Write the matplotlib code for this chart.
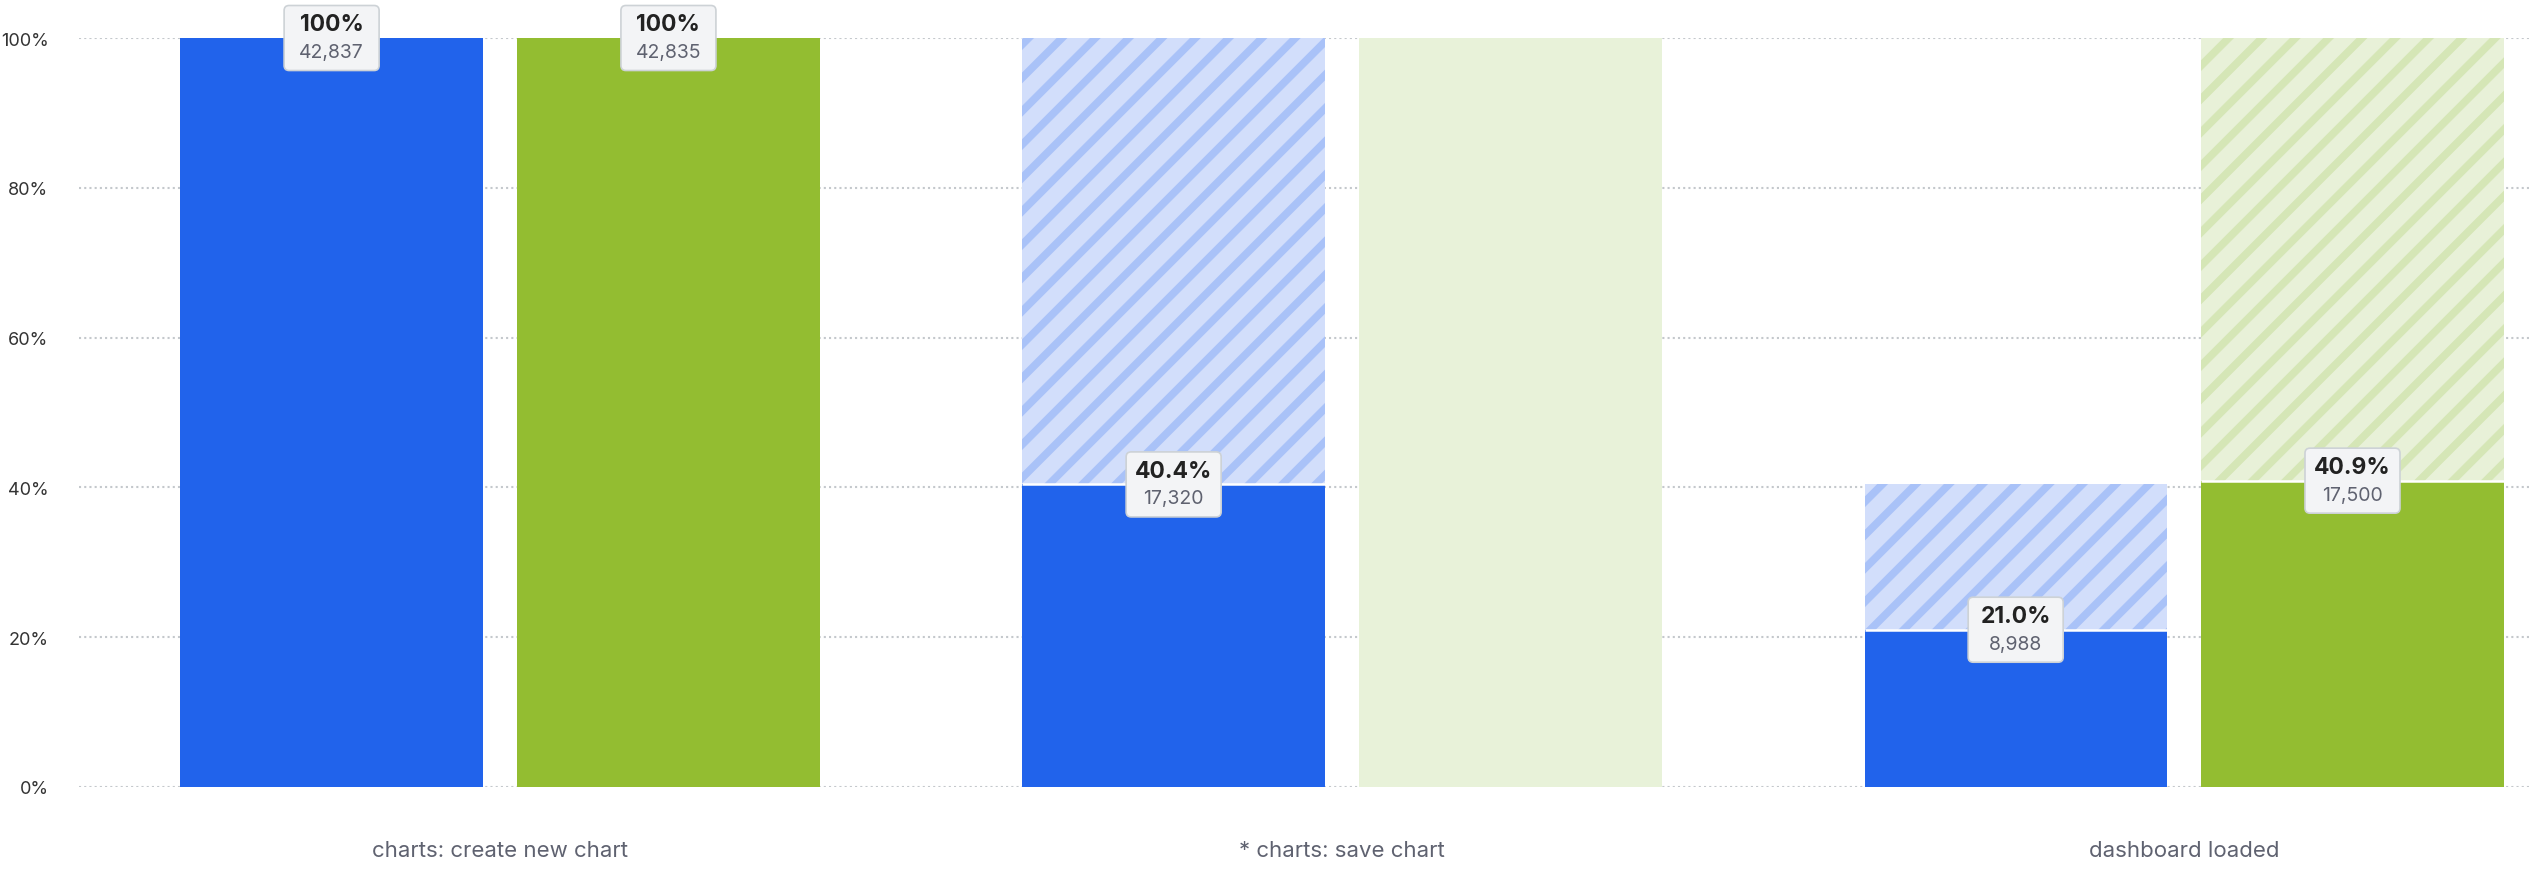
import numpy as np
import matplotlib
matplotlib.use('Agg')
import matplotlib.pyplot as plt
import matplotlib.transforms as mtransforms
from matplotlib.patches import FancyBboxPatch

plt.rcParams['font.family'] = ['Inter', 'DejaVu Sans']
plt.rcParams['hatch.linewidth'] = 5.5

steps = ['charts: create new chart', '* charts: save chart', 'dashboard loaded']
blue_pct = [100, 40.4, 21.0]
blue_counts = [42837, 17320, 8988]
green_pct = [100, 100, 40.9]
green_counts = [42835, 0, 17500]
green_skipped = [False, True, False]

series = [
    # pct, counts, skipped, offset, solid, hatch bg, hatch stripe
    (blue_pct, blue_counts, [False, False, False], -0.2, '#2163EB', '#D2DEFB', '#A9C2F8'),
    (green_pct, green_counts, green_skipped, 0.2, '#93BD31', '#E8F1D8', '#D5E6B6'),
]
skip_color = '#E8F2D9'
width = 0.359

fig = plt.figure(figsize=(25.31, 8.70), dpi=100)
ax = fig.add_axes([79/2531, 1-788/870, 1-79/2531, (788-39)/870])

x = np.arange(len(steps))

for pct, counts, skipped, off, solid, hbg, hstripe in series:
    prev = None
    for i in range(len(steps)):
        xi = x[i] + off
        if skipped[i]:
            ax.bar(xi, 100, width, color=skip_color, zorder=2)
            continue
        if prev is not None and prev > pct[i]:
            ax.bar(xi, prev - pct[i], width, bottom=pct[i], facecolor=hbg,
                   edgecolor=hstripe, linewidth=0, hatch='/', zorder=2)
        ax.bar(xi, pct[i], width, color=solid, zorder=3)
        if prev is not None:
            ax.plot([xi - width/2, xi + width/2], [pct[i], pct[i]], color='white',
                    lw=1.8, zorder=4, solid_capstyle='butt')
        # label box centred on the bar top
        tr = fig.dpi_scale_trans + mtransforms.ScaledTranslation(xi, pct[i], ax.transData)
        bw, bh = 0.95, 0.65
        box = FancyBboxPatch((-bw/2, -bh/2), bw, bh, boxstyle='round,pad=0,rounding_size=0.05',
                             transform=tr, facecolor='#F3F4F6', edgecolor='#CDD2D6',
                             linewidth=1.2, zorder=6, clip_on=False)
        ax.add_patch(box)
        lab = '100%' if pct[i] == 100 else f'{pct[i]:.1f}%'
        ax.annotate(lab, (xi, pct[i]), xytext=(0, 10), textcoords='offset points',
                    ha='center', va='center', fontsize=16.5, fontweight='bold',
                    color='#222222', zorder=7, annotation_clip=False)
        ax.annotate(f'{counts[i]:,}', (xi, pct[i]), xytext=(0, -10), textcoords='offset points',
                    ha='center', va='center', fontsize=14, color='#5F6270',
                    zorder=7, annotation_clip=False)
        prev = pct[i]

ax.set_xlim(-0.5, 2.412)
ax.set_ylim(0, 100)
ax.set_yticks(np.arange(0, 101, 20))
ax.set_yticklabels([f'{v}%' for v in range(0, 101, 20)])
ax.set_xticks(x)
ax.set_xticklabels(steps)
ax.yaxis.grid(True, linestyle=(0, (1, 1.5)), color='#C4C8CC', linewidth=1.5, zorder=0)
ax.set_axisbelow(True)
for s in ax.spines.values():
    s.set_visible(False)
ax.tick_params(axis='y', length=0, pad=22, labelsize=13, labelcolor='#333333')
ax.tick_params(axis='x', length=0, pad=38, labelsize=16, labelcolor='#5F6270')

fig.savefig('out.png', dpi=100)
